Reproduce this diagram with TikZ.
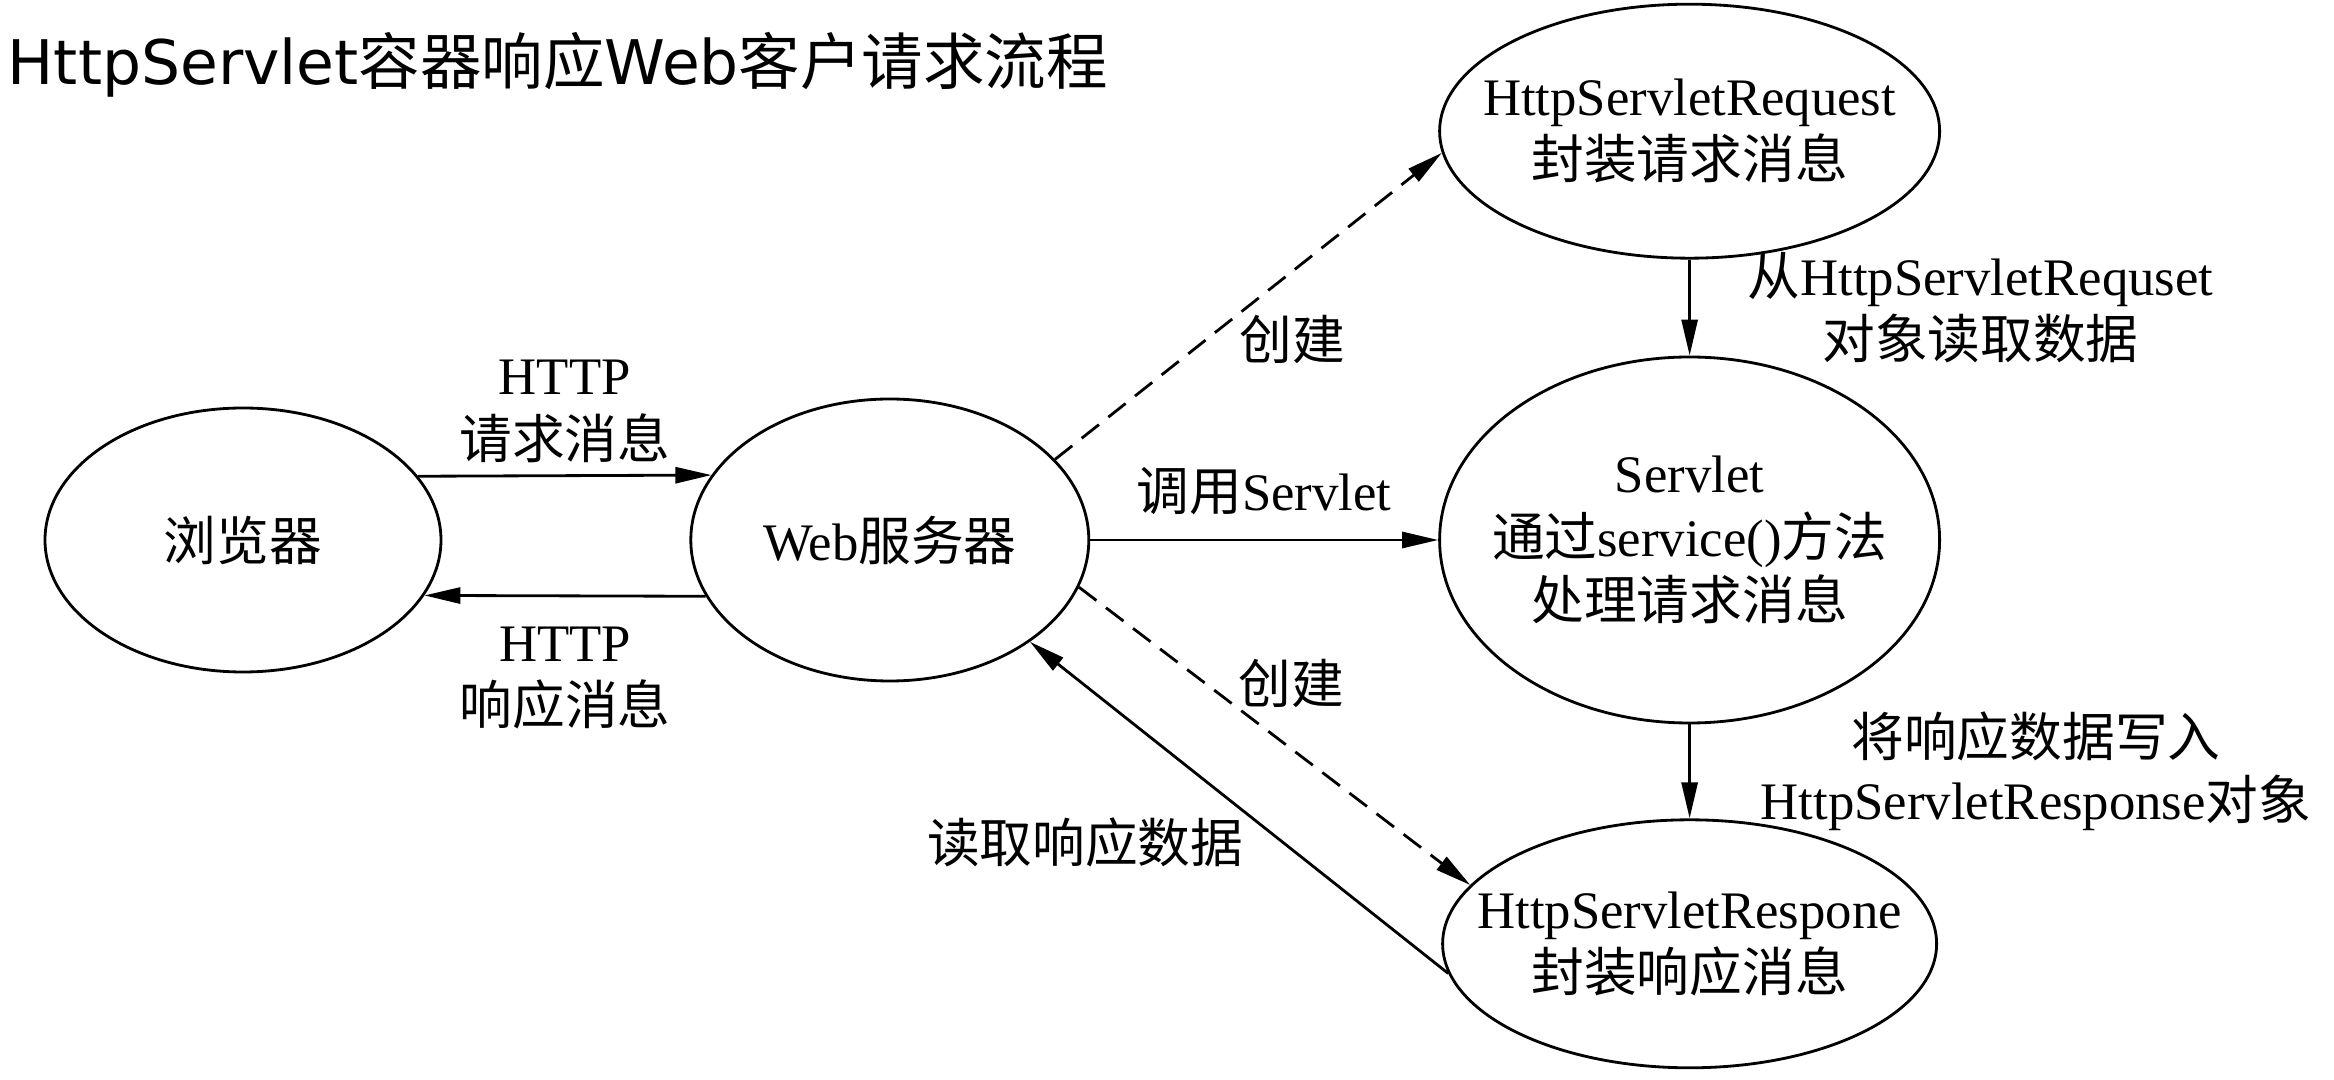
\documentclass[tikz,border=0pt]{standalone}
\usepackage{fontspec}
\setmainfont{Liberation Serif}
\newfontfamily\cjk{Noto Sans CJK SC}
\newfontfamily\titlesans{DejaVu Sans}
\usepackage{tikz}
\usetikzlibrary{shapes.geometric, arrows.meta, positioning, backgrounds}

\begin{document}
\begin{tikzpicture}[
        every node/.style={font=\fontsize{15}{18}\selectfont, align=center},
        oval/.style={draw, ellipse, line width=0.8pt, inner sep=0pt},
        flow/.style={-{Triangle[length=0.36cm, width=0.16cm]}, line width=0.8pt},
        dflow/.style={flow, dash pattern=on 0.22cm off 0.12cm},
        show background rectangle,
        background rectangle/.style={fill=white},
        inner frame sep=0pt
    ]
        \useasboundingbox (0,0) rectangle (23.34,10.79);
        \node[anchor=base west, inner sep=0pt, font=\fontsize{17.5}{21}\selectfont] (title) at (0.07,9.94) {{\titlesans HttpServlet}{\cjk 容器响应}{\titlesans Web}{\cjk 客户请求流程}};

        \node[oval, minimum width=3.96cm, minimum height=2.64cm] (browser) at (2.43,5.39) {\cjk 浏览器};
        \node[oval, minimum width=3.98cm, minimum height=2.82cm, right=2.47cm of browser] (web) {Web{\cjk 服务器}};
        \node[oval, minimum width=5cm, minimum height=3.66cm, right=3.48cm of web] (servlet) {};
        \node[oval, minimum width=5cm, minimum height=2.54cm, above=0.96cm of servlet] (request) {};
        \node[oval, minimum width=4.94cm, minimum height=2.48cm, below=0.94cm of servlet] (response) {};

        \node (servlettxt) at (servlet) {Servlet\\{\cjk 通过}service(){\cjk 方法}\\{\cjk 处理请求消息}};
        \node (requesttxt) at (request) {HttpServletRequest\\{\cjk 封装请求消息}};
        \node (responsetxt) at (response) {HttpServletRespone\\{\cjk 封装响应消息}};

        \draw[flow] (browser.20) -- node[above] (sendlbl) {HTTP\\{\cjk 请求消息}} (web.160);
        \draw[flow] (web.-163) -- node[below=0.18cm] (backlbl) {HTTP\\{\cjk 响应消息}} (browser.-17);
        \draw[flow] (web) -- node[above=0.12cm] (calllbl) {{\cjk 调用}Servlet} (servlet);
        \draw[dflow] (web.26) -- node[pos=0.47, below right, xshift=-0.1cm, yshift=0.13cm] (newreq) {\cjk 创建} (request.185);
        \draw[dflow] (web.-14) -- node[pos=0.4, above right, xshift=-0.1cm, yshift=-0.15cm] (newresp) {\cjk 创建} (response.165);
        \draw[flow] (response.187) -- node[pos=0.48, below left, xshift=0.09cm, yshift=0.1cm] (readlbl) {\cjk 读取响应数据} (web.-36);
        \draw[flow] (request) -- node[right=0.45cm] (getlbl) {{\cjk 从}HttpServletRequset\\{\cjk 对象读取数据}} (servlet);
        \draw[flow] (servlet) -- node[right=0.58cm] (putlbl) {{\cjk 将响应数据写入}\\HttpServletResponse{\cjk 对象}} (response);
    \end{tikzpicture}
\end{document}
